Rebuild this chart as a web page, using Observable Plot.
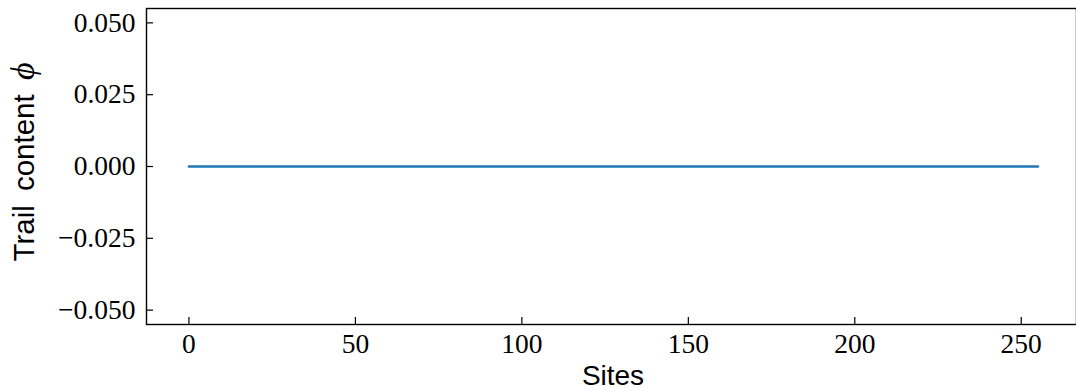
<!DOCTYPE html>
<html>
<head>
<meta charset="utf-8">
<script src="https://cdn.jsdelivr.net/npm/d3@7"></script>
<script src="https://cdn.jsdelivr.net/npm/@observablehq/plot@0.6"></script>
<style>
  html, body { margin: 0; padding: 0; background: #fff; }
  #chart svg { display: block; }
</style>
</head>
<body>
<div id="chart"></div>
<script>
// Trail content phi at each lattice site (flat profile, all sites empty)
const trailContent = [
  0,0,0,0,0,0,0,0,0,0,0,0,0,0,0,0,0,0,0,0,0,0,0,0,0,0,0,0,0,0,0,0,
  0,0,0,0,0,0,0,0,0,0,0,0,0,0,0,0,0,0,0,0,0,0,0,0,0,0,0,0,0,0,0,0,
  0,0,0,0,0,0,0,0,0,0,0,0,0,0,0,0,0,0,0,0,0,0,0,0,0,0,0,0,0,0,0,0,
  0,0,0,0,0,0,0,0,0,0,0,0,0,0,0,0,0,0,0,0,0,0,0,0,0,0,0,0,0,0,0,0,
  0,0,0,0,0,0,0,0,0,0,0,0,0,0,0,0,0,0,0,0,0,0,0,0,0,0,0,0,0,0,0,0,
  0,0,0,0,0,0,0,0,0,0,0,0,0,0,0,0,0,0,0,0,0,0,0,0,0,0,0,0,0,0,0,0,
  0,0,0,0,0,0,0,0,0,0,0,0,0,0,0,0,0,0,0,0,0,0,0,0,0,0,0,0,0,0,0,0,
  0,0,0,0,0,0,0,0,0,0,0,0,0,0,0,0,0,0,0,0,0,0,0,0,0,0,0,0,0,0,0,0
];
const xTicks = [0, 50, 100, 150, 200, 250];
const yTicks = [-0.05, -0.025, 0, 0.025, 0.05];
const xLabel = "Sites";
const yLabel = "Trail content ";
const yLabelSymbol = "\u03D5";

const data = trailContent.map((phi, site) => ({site, phi}));

const serif = "'Liberation Serif', 'DejaVu Serif', serif";
const sans = "'Liberation Sans', 'DejaVu Sans', sans-serif";
const fmt = d => (d < 0 ? "\u2212" : "") + Math.abs(d).toFixed(3);

const W = 1076, H = 391;
const plot = Plot.plot({
  width: W,
  height: H,
  marginLeft: 146,
  marginRight: 0,
  marginTop: 8,
  marginBottom: 67,
  style: {fontFamily: serif, fontSize: "27.5px", color: "#000", background: "#fff"},
  x: {domain: [-12.75, 266.6], ticks: xTicks},
  y: {domain: [-0.055, 0.055], ticks: yTicks},
  marks: [
    Plot.frame({stroke: "#000", strokeWidth: 1.4}),
    Plot.axisX({ticks: xTicks, tickSize: 0, tickPadding: 9, tickFormat: d => String(d), label: null}),
    Plot.axisX({ticks: xTicks, tickSize: -7, text: null, label: null, strokeWidth: 1.2}),
    Plot.axisY({ticks: yTicks, tickSize: 0, tickPadding: 11, tickFormat: fmt, label: null}),
    Plot.axisY({ticks: yTicks, tickSize: -7, text: null, label: null, strokeWidth: 1.2}),
    Plot.line(data, {x: "site", y: "phi", stroke: "#1f77b4", strokeWidth: 2.6})
  ]
});
document.getElementById("chart").appendChild(plot);

// Axis titles: sans-serif text, with an italic serif phi on the y title
const svg = d3.select(plot);
svg.append("text")
  .attr("x", (146 + 1080) / 2)
  .attr("y", 385)
  .attr("text-anchor", "middle")
  .attr("font-family", sans)
  .attr("font-size", 28)
  .attr("fill", "#000")
  .text(xLabel);

const yt = svg.append("text")
  .attr("transform", `translate(34, 162) rotate(-90)`)
  .attr("text-anchor", "middle")
  .attr("font-family", sans)
  .attr("font-size", 29.5)
  .attr("word-spacing", 6)
  .attr("fill", "#000");
yt.append("tspan").text(yLabel);
yt.append("tspan")
  .attr("font-family", serif)
  .attr("font-style", "italic")
  .attr("font-size", 34)
  .text(yLabelSymbol);
</script>
</body>
</html>
